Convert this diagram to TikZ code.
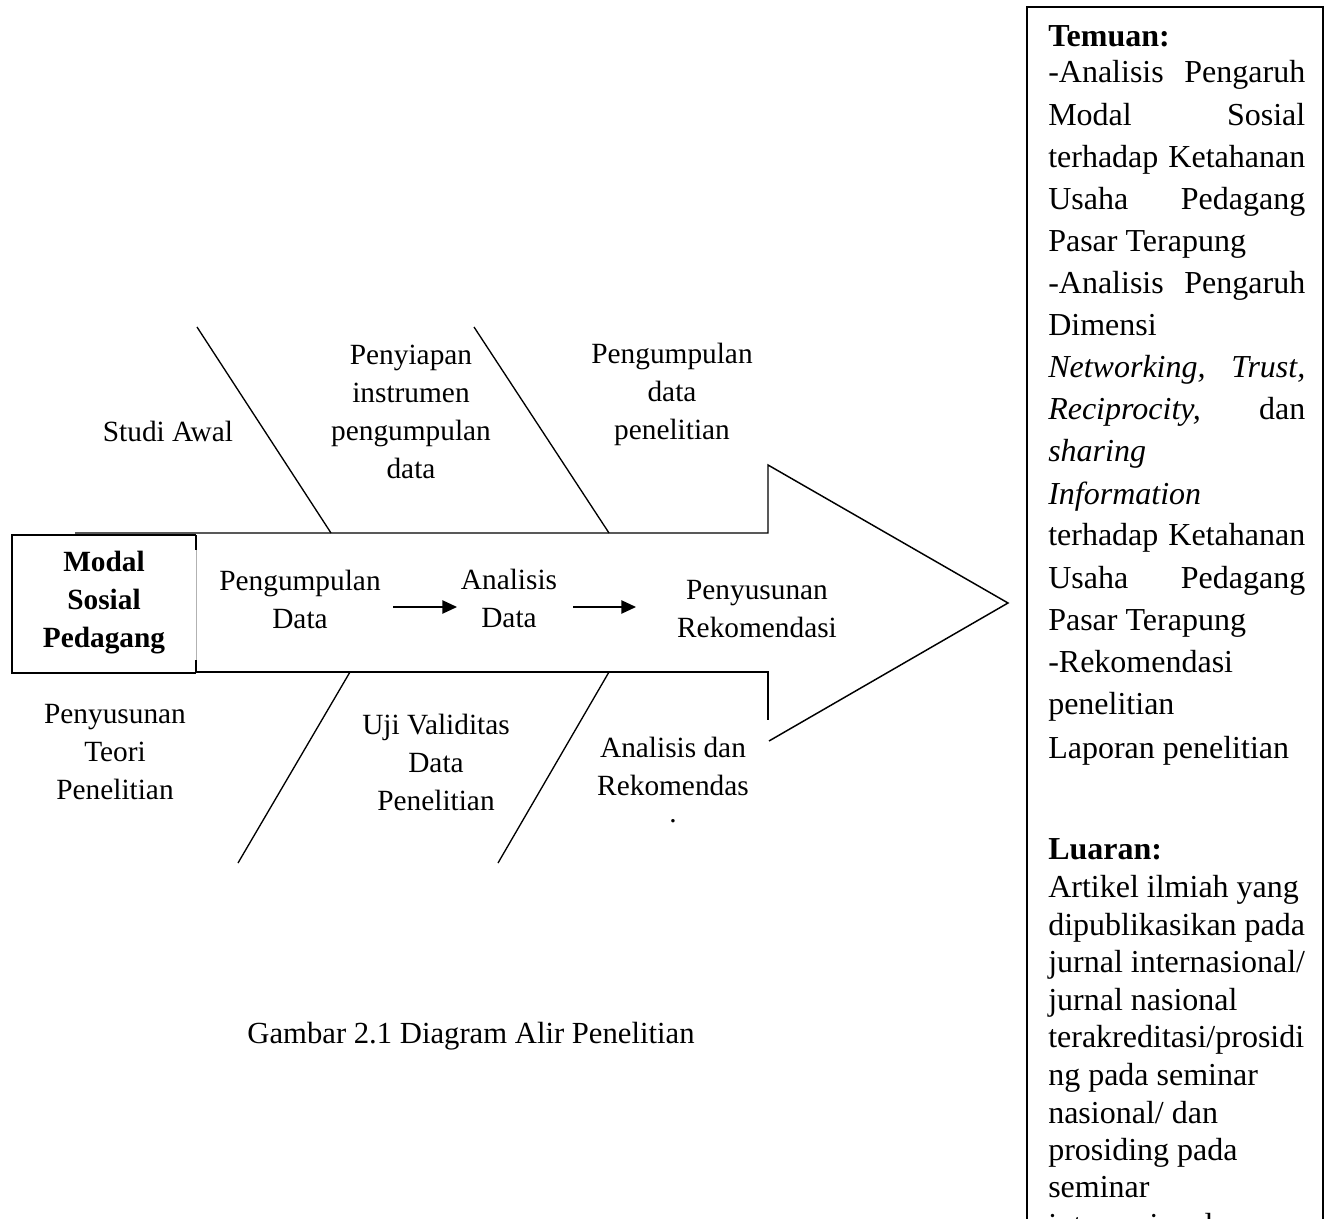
\documentclass[tikz,border=0pt]{standalone}
\usepackage{fontspec}
\setmainfont{Liberation Serif}
\usetikzlibrary{arrows.meta}
\newcommand\jline[2]{\hbox to 192.75pt{#1\hfill #2}}
\begin{document}
\begin{tikzpicture}[x=0.75pt,y=-0.75pt,
  lbl/.style={align=center, font=\fontsize{22}{28.5}\selectfont, inner sep=0pt},
  rtxt/.style={anchor=base west, font=\fontsize{24}{30}\selectfont, inner sep=0pt},
  bone/.style={line width=1pt},
  outl/.style={line width=1.1pt},
  flow/.style={line width=1.1pt, -{Triangle[length=11pt,width=10pt]}}]
\useasboundingbox (0,0) rectangle (1325,1219);
\clip (0,0) rectangle (1325,1219);

% ---------- big arrow (fish body) ----------
\coordinate (btl) at (75,533);
\coordinate (bnt) at (768,533);
\coordinate (htop) at (768,465);
\coordinate (tip) at (1008,603);
\coordinate (hbot) at (769,741);
\coordinate (bbl) at (196,672);
\coordinate (bnb) at (768,672);
\coordinate (bnbe) at (768,720);
\draw[outl] (btl) -- (bnt) -- (htop) -- (tip) -- (hbot);
\draw[outl] (bbl) -- (bnb) -- (bnbe);

% ---------- head box ----------
\coordinate (bx1) at (12,535);
\coordinate (bx2) at (196,673);
\coordinate (bxr1) at (196,535);
\coordinate (bxr2) at (196,673);
\draw[outl] (bxr1) -- (bx1 |- bx1) -- (bx1 |- bx2) -- (bxr2);
\draw[gray!60, line width=0.5pt] (bxr1) -- (bxr2);
\draw[outl] (bxr1) -- ++(0,15);
\draw[outl] (bxr2) -- ++(0,-13);
\node[lbl, font=\fontsize{22}{28.5}\selectfont\bfseries] (modal) at (104,603) {Modal\\Sosial\\Pedagang};

% ---------- bones ----------
\coordinate (u1t) at (197,327);
\coordinate (u1b) at (331,533);
\coordinate (u2t) at (474,327);
\coordinate (u2b) at (609,533);
\coordinate (l1t) at (350,672);
\coordinate (l1b) at (238,863);
\coordinate (l2t) at (609,672);
\coordinate (l2b) at (498,863);
\draw[bone] (u1t) -- (u1b);
\draw[bone] (u2t) -- (u2b);
\draw[bone] (l1t) -- (l1b);
\draw[bone] (l2t) -- (l2b);

% ---------- labels ----------
\node[lbl] (studi) at (168,431) {Studi Awal};
\node[lbl] (penyiapan) at (411,412) {Penyiapan\\instrumen\\pengumpulan\\data};
\node[lbl] (pengdata) at (672,394) {Pengumpulan\\data\\penelitian};
\node[lbl] (teori) at (115,752) {Penyusunan\\Teori\\Penelitian};
\node[lbl] (uji) at (436,762) {Uji Validitas\\Data\\Penelitian};
\node[lbl] (anrek) at (673,766) {Analisis dan\\Rekomendas};
\node[lbl, anchor=base] (dot) at (673,822) {.};

% ---------- inner flow ----------
\node[lbl] (pd) at (300,599) {Pengumpulan\\Data};
\node[lbl] (ad) at (509,598) {Analisis\\Data};
\node[lbl] (pr) at (757,609) {Penyusunan\\Rekomendasi};
\coordinate (a1s) at (393,607);
\coordinate (a1e) at (457,607);
\coordinate (a2s) at (573,607);
\coordinate (a2e) at (636,607);
\draw[flow] (a1s) -- (a1e);
\draw[flow] (a2s) -- (a2e);

% ---------- caption ----------
\node[lbl, font=\fontsize{23}{28.5}\selectfont] (cap) at (471,1036) {Gambar 2.1 Diagram Alir Penelitian};

% ---------- right box ----------
\coordinate (rb1) at (1027,1260);
\coordinate (rb2) at (1027,7);
\coordinate (rb3) at (1323,7);
\coordinate (rb4) at (1323,1260);
\draw[outl] (rb1) -- (rb2) -- (rb3) -- (rb4);

\node[rtxt] (t1) at (1048,47) {\textbf{Temuan:}};
\node[rtxt] (t2) at (1048,83) {\jline{-Analisis}{Pengaruh}};
\node[rtxt] (t3) at (1048,126) {\jline{Modal}{Sosial}};
\node[rtxt] (t4) at (1048,168) {\jline{terhadap}{Ketahanan}};
\node[rtxt] (t5) at (1048,210) {\jline{Usaha}{Pedagang}};
\node[rtxt] (t6) at (1048,252) {Pasar Terapung};
\node[rtxt] (t7) at (1048,294) {\jline{-Analisis}{Pengaruh}};
\node[rtxt] (t8) at (1048,336) {Dimensi};
\node[rtxt] (t9) at (1048,378) {\jline{\textit{Networking,}}{\textit{Trust,}}};
\node[rtxt] (t10) at (1048,420) {\jline{\textit{Reciprocity,}}{dan}};
\node[rtxt] (t11) at (1048,462) {\textit{sharing}};
\node[rtxt] (t12) at (1048,504) {\textit{Information}};
\node[rtxt] (t13) at (1048,546) {\jline{terhadap}{Ketahanan}};
\node[rtxt] (t14) at (1048,588) {\jline{Usaha}{Pedagang}};
\node[rtxt] (t15) at (1048,630) {Pasar Terapung};
\node[rtxt] (t16) at (1048,672) {-Rekomendasi};
\node[rtxt] (t17) at (1048,714) {penelitian};
\node[rtxt] (t18) at (1048,758) {Laporan penelitian};

\node[rtxt] (l1) at (1048,859) {\textbf{Luaran:}};
\node[rtxt] (l2) at (1048,897) {Artikel ilmiah yang};
\node[rtxt] (l3) at (1048,935) {dipublikasikan pada};
\node[rtxt] (l4) at (1048,972) {jurnal internasional/};
\node[rtxt] (l5) at (1048,1010) {jurnal nasional};
\node[rtxt] (l6) at (1048,1047) {terakreditasi/prosidi};
\node[rtxt] (l7) at (1048,1085) {ng pada seminar};
\node[rtxt] (l8) at (1048,1123) {nasional/ dan};
\node[rtxt] (l9) at (1048,1160) {prosiding pada};
\node[rtxt] (l10) at (1048,1197) {seminar};
\node[rtxt] (l11) at (1048,1235) {internasional};
\end{tikzpicture}
\end{document}
